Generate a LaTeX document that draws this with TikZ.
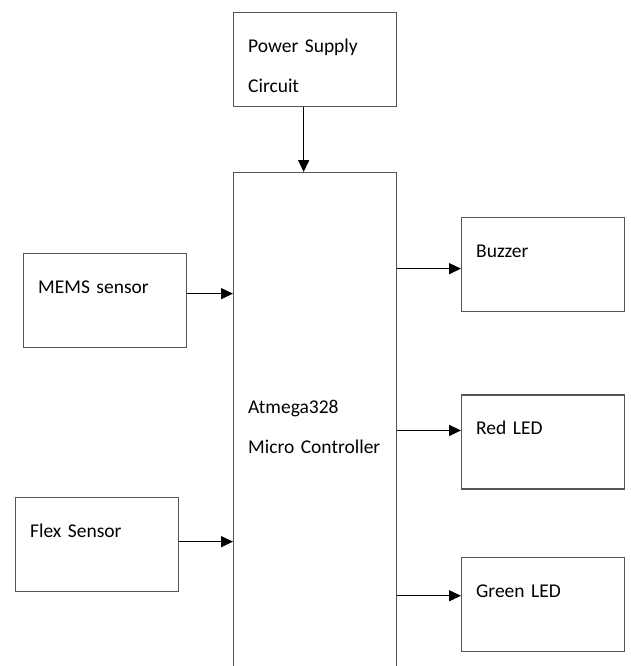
\documentclass[tikz,border=0pt]{standalone}
\usepackage{fontspec}
\setmainfont{Carlito}
\usetikzlibrary{positioning,arrows.meta}
\definecolor{edge}{RGB}{85,85,85}

\begin{document}
\begin{tikzpicture}[x=1pt,y=-1pt,>={Triangle[length=12pt,width=11pt]},
  font=\fontsize{19.5}{40}\selectfont,
  blk/.style={draw=edge,line width=1.3pt,anchor=north west,text width=134pt,align=left,
    inner xsep=14.5pt,inner ysep=0pt,text height=40pt,text depth=54pt},
  link/.style={->,line width=1.4pt}]
  \clip (0,0) rectangle (630,666);
  \node[blk,text height=241pt,text depth=280pt] (mcu) at (233,172) {Atmega328\\Micro Controller};
  \node[blk,above=65pt of mcu] (psu) {Power Supply\\Circuit};
  \node[blk] (mems) at (23,253) {MEMS sensor};
  \node[blk] (flex) at (15,497) {Flex Sensor};
  \node[blk] (buzz) at (461,217) {Buzzer};
  \node[blk,below=82pt of buzz] (red) {Red LED};
  \node[blk,below=67pt of red] (green) {Green LED};
  \draw[link] ([xshift=-11.5pt]psu.south) coordinate (p) -- (p |- mcu.north);
  \draw[link] ([yshift=7pt]mems.east) coordinate (m) -- (m -| mcu.west);
  \draw[link] ([yshift=3pt]flex.east) coordinate (f) -- (f -| mcu.west);
  \coordinate (b) at ([yshift=-4pt]buzz.west);
  \coordinate (r) at ([yshift=11.5pt]red.west);
  \coordinate (g) at ([yshift=8.5pt]green.west);
  \draw[link] (b -| mcu.east) -- (b);
  \draw[link] (r -| mcu.east) -- (r);
  \draw[link] (g -| mcu.east) -- (g);
\end{tikzpicture}
\end{document}
